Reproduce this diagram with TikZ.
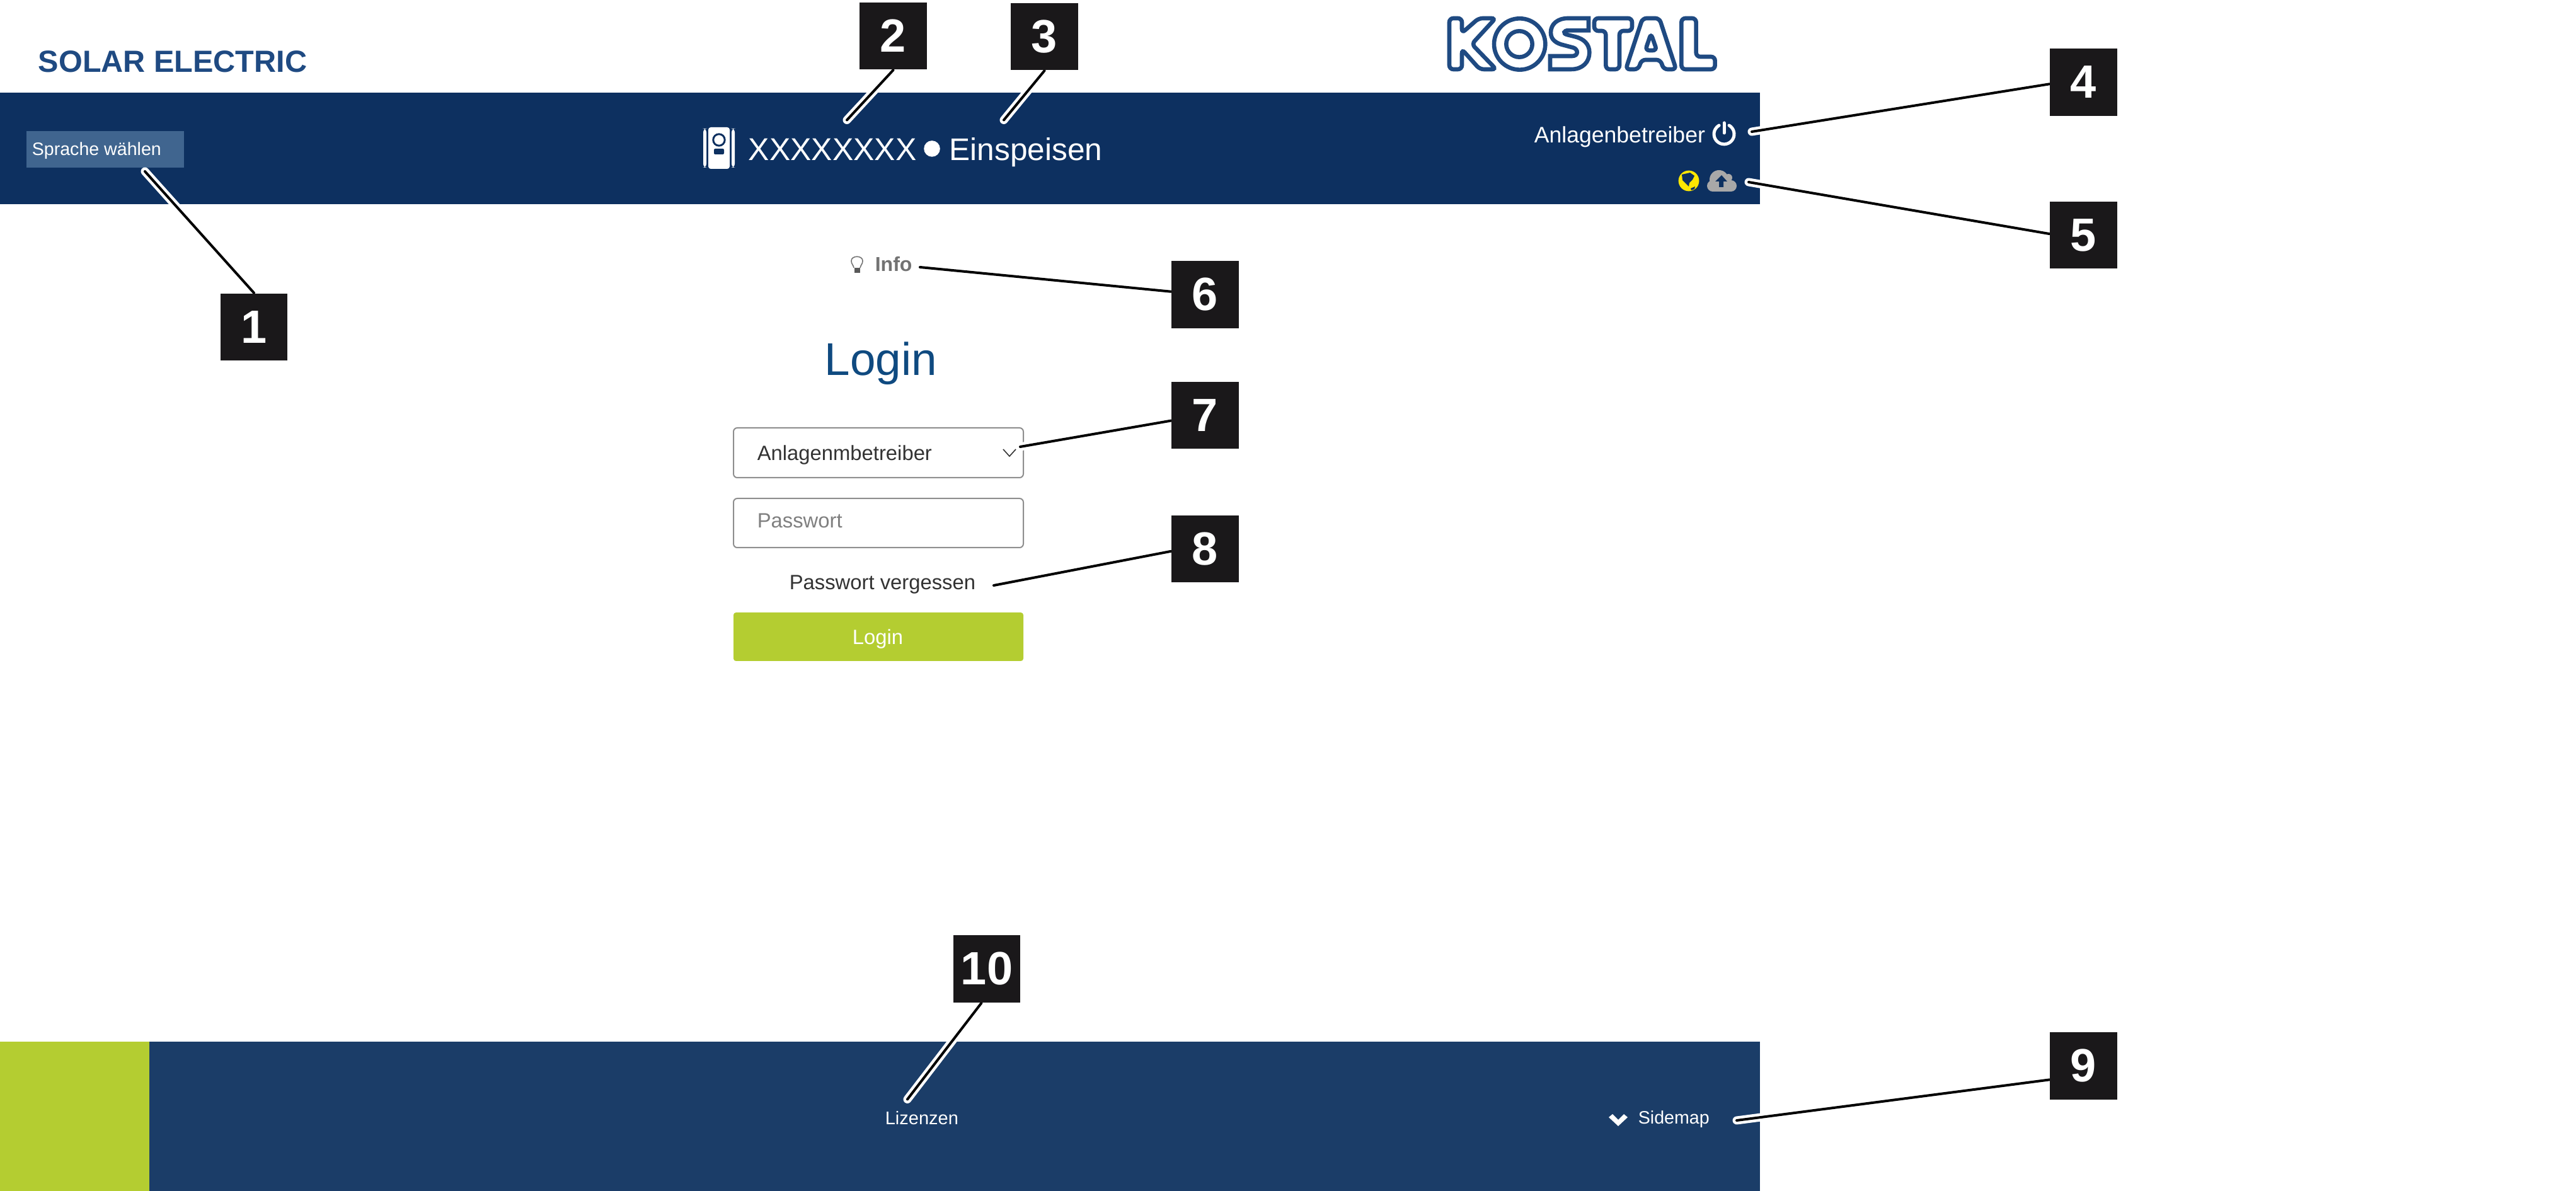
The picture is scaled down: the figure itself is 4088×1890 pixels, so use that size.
\documentclass[tikz,border=0pt]{standalone}
\usepackage{fontspec}
\setmainfont{Liberation Sans}
\pgfdeclarelayer{tags}
\pgfsetlayers{main,tags}
\definecolor{headblue}{HTML}{0D3060}
\definecolor{footblue}{HTML}{1B3D68}
\definecolor{brandblue}{HTML}{1F4A82}
\definecolor{loginblue}{HTML}{0F4A80}
\definecolor{langblue}{HTML}{40658F}
\definecolor{kiwi}{HTML}{B4CD31}
\definecolor{tagblack}{HTML}{1A181A}
\definecolor{fieldgrey}{HTML}{8E8E8E}
\begin{document}
\begin{tikzpicture}[x=0.25pt,y=-0.25pt]

    \tikzset{
      txt/.style={inner sep=0pt,anchor=base west,font=\fontsize{8.2}{10}\selectfont},
      tag/.style={fill=tagblack,text=white,inner sep=0pt,minimum width=26.7pt,minimum height=26.7pt,
                  font=\fontsize{18.5}{20}\selectfont\bfseries},
      field/.style={draw=fieldgrey,line width=.5pt,rounded corners=1.5pt,fill=white},
      halo/.style={white,line width=3.25pt,line cap=round},
      lead/.style={black,line width=1pt,line cap=round},
      logo/.style={draw=brandblue,fill=white,line width=1.65pt,rounded corners=1.6pt}
    }
    \useasboundingbox (0,0) rectangle (4088,1890);
    \fill[white] (0,0) rectangle (4088,1890);

    \fill[headblue] (0,147) rectangle (2793,324);
    \fill[footblue] (237,1653) rectangle (2793,1890);
    \fill[kiwi] (0,1653) rectangle (237,1890);

    \node[txt,text=brandblue,font=\fontsize{12.15}{14}\selectfont\bfseries] (brand) at (60,115) {SOLAR ELECTRIC};

    % logo, in 1/3 px
    \begin{scope}[shift={(2285,15)},x=0.08333pt,y=-0.08333pt]
      \draw[logo] (45,42) -- (105,42) -- (105,112) -- (185,42) -- (265,42) -- (152,165) -- (268,285)
                  -- (190,285) -- (105,190) -- (105,285) -- (45,285) -- cycle;
      \draw[draw=brandblue,fill=white,line width=1.65pt] (380,165) circle (122);
      \draw[draw=brandblue,fill=white,line width=1.65pt] (378,165) circle (62);
      \draw[logo,rounded corners=0pt] (708,42) -- (610,42) .. controls (560,42) and (528,70) .. (528,110)
                  .. controls (528,145) and (555,162) .. (590,170) -- (635,182)
                  .. controls (660,190) and (660,222) .. (630,222) -- (525,222) -- (525,285) -- (625,285)
                  .. controls (680,285) and (712,250) .. (712,205) .. controls (712,165) and (685,140) .. (645,130)
                  -- (605,120) .. controls (585,115) and (590,100) .. (610,100) -- (708,100) -- cycle;
      \draw[logo] (735,42) -- (915,42) -- (915,102) -- (855,102) -- (855,285) -- (790,285) -- (790,102) -- (735,102) -- cycle;
      \draw[logo] (965,42) -- (1045,42) -- (1125,285) -- (1065,285) -- (1050,240) -- (960,240) -- (945,285) -- (885,285) -- cycle;
      \draw[logo] (1005,115) -- (1033,195) -- (978,195) -- cycle;
      \draw[logo] (1150,42) -- (1220,42) -- (1220,225) -- (1310,225) -- (1310,285) -- (1150,285) -- cycle;
    \end{scope}

    % header
    \node[fill=langblue,inner sep=0pt,minimum width=62.5pt,minimum height=14.5pt] (langbox) at (167,237) {};
    \node[txt,text=white,font=\fontsize{7.15}{9}\selectfont] (langtext) at (50,246.7) {Sprache wählen};

    \fill[white,rounded corners=1pt] (1124,202) rectangle (1158,268);
    \fill[white,rounded corners=1.5pt] (1116,204) rectangle (1121,266);
    \fill[white,rounded corners=1.5pt] (1161,204) rectangle (1166,266);
    \draw[headblue,line width=.75pt] (1141,222) circle (2.3pt);
    \fill[headblue,rounded corners=.5pt] (1133,236) rectangle (1149,245);

    \node[txt,text=white,font=\fontsize{12.5}{14}\selectfont] (device) at (1187,255) {XXXXXXXX};
    \fill[white] (1479,236) circle (3.2pt);
    \node[txt,text=white,font=\fontsize{12.4}{14}\selectfont] (state) at (1506,255) {Einspeisen};

    \node[txt,text=white,font=\fontsize{8.9}{10}\selectfont] (user) at (2434,227) {Anlagenbetreiber};
    \draw[white,line width=1.25pt,line cap=round] (2744,199) arc[start angle=60,end angle=-240,radius=4pt];
    \draw[white,line width=1.25pt,line cap=round] (2736,195) -- (2736,211);

    \fill[yellow!90!orange] (2680,287) circle (4.1pt);
    \fill[headblue] (2669,277) -- (2682,274) -- (2689,279) -- (2686,285) -- (2681,290) -- (2680,296)
                    -- (2675,291) -- (2670,286) -- cycle;
    \fill[headblue] (2683,299) -- (2690,296) -- (2689,300) -- (2684,302) -- cycle;

    \fill[black!34] (2728,285) circle (3.75pt);
    \fill[black!34] (2743,282) circle (1.5pt);
    \fill[black!34] (2747,295) circle (2.25pt);
    \fill[black!34] (2718,295) circle (2.25pt);
    \fill[black!34] (2718,285) rectangle (2747,304);
    \fill[headblue] (2732,278) -- (2741,288) -- (2735,288) -- (2735,297) -- (2728,297) -- (2728,288) -- (2722,288) -- cycle;

    % login form
    \draw[black!55,line width=.4pt] (1355,425) .. controls (1354,420) and (1351,419) .. (1351,414)
                    .. controls (1351,405) and (1369,405) .. (1369,414) .. controls (1369,419) and (1366,420) .. (1365,425);
    \fill[black!65] (1356,425) rectangle (1365,433);
    \node[txt,text=black!55,font=\fontsize{8}{10}\selectfont\bfseries] (info) at (1388,431) {Info};
    \node[txt,text=loginblue,font=\fontsize{18.2}{20}\selectfont] (title) at (1308,596) {Login};

    \draw[field] (1164,679) rectangle (1624,758);
    \node[txt,text=black!80] (role) at (1201,731) {Anlagenmbetreiber};
    \draw[black!80,line width=.4pt] (1592,713) -- (1602,724) -- (1612,713);
    \draw[field] (1164,791) rectangle (1624,869);
    \node[txt,text=black!50] (pass) at (1201,838) {Passwort};
    \node[txt,text=black!80] (forgot) at (1252,936) {Passwort vergessen};
    \fill[kiwi,rounded corners=1pt] (1164,972) rectangle (1624,1049);
    \node[txt,text=white,anchor=base] (submit) at (1393,1023) {Login};

    % footer
    \node[txt,text=white,font=\fontsize{7.25}{9}\selectfont] (lic) at (1404,1784) {Lizenzen};
    \node[txt,text=white,font=\fontsize{7.15}{9}\selectfont] (sitemap) at (2599,1783) {Sidemap};
    \fill[white] (2553,1773) -- (2559,1768) -- (2568,1777) -- (2577,1768) -- (2583,1773) -- (2568,1787) -- cycle;

    \coordinate (tip1) at (230,272);
    \coordinate (tip2) at (1344,190.5);
    \coordinate (tip3) at (1593,190.5);
    \coordinate (tip4) at (2780,209);
    \coordinate (tip5) at (2775,289);
    \coordinate (tip6) at (1460,424);
    \coordinate (tip7) at (1619,709);
    \coordinate (tip8) at (1577,929);
    \coordinate (tip9) at (2756,1778);
    \coordinate (tip10) at (1440,1744.5);

    \begin{pgfonlayer}{tags}
    \node[tag] (num1) at (403,519) {1};
    \node[tag] (num2) at (1417.5,57) {2};
    \node[tag] (num3) at (1657.5,58) {3};
    \node[tag] (num4) at (3306.5,130.5) {4};
    \node[tag] (num5) at (3306.5,373) {5};
    \node[tag] (num6) at (1912.5,467.5) {6};
    \node[tag] (num7) at (1912.5,659) {7};
    \node[tag] (num8) at (1912.5,871) {8};
    \node[tag] (num9) at (3306.5,1691.5) {9};
    \node[tag] (num10) at (1566,1537.5) {10};
    \end{pgfonlayer}

    \draw[halo] (num1.north) -- (tip1);
    \draw[halo] (num2.south) -- (tip2);
    \draw[halo] (num3.south) -- (tip3);
    \draw[halo] (num4.183) -- (tip4);
    \draw[halo] (num5.178) -- (tip5);
    \draw[halo] (num6.175) -- (tip6);
    \draw[halo] (num7.189) -- (tip7);
    \draw[halo] (num8.184) -- (tip8);
    \draw[halo] (num9.202) -- (tip9);
    \draw[halo] (num10.261) -- (tip10);

    \draw[lead] (num1.north) -- (tip1);
    \draw[lead] (num2.south) -- (tip2);
    \draw[lead] (num3.south) -- (tip3);
    \draw[lead] (num4.183) -- (tip4);
    \draw[lead] (num5.178) -- (tip5);
    \draw[lead] (num6.175) -- (tip6);
    \draw[lead] (num7.189) -- (tip7);
    \draw[lead] (num8.184) -- (tip8);
    \draw[lead] (num9.202) -- (tip9);
    \draw[lead] (num10.261) -- (tip10);
\end{tikzpicture}
\end{document}
